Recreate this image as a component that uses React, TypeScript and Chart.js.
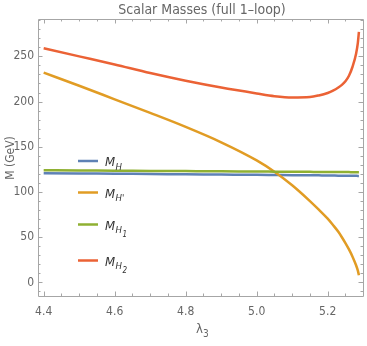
import React, { useEffect, useRef } from "react";
import { Chart, registerables } from "chart.js";

Chart.register(...registerables);

const LAMBDA3 = [4.40, 4.50, 4.60, 4.70, 4.80, 4.90, 5.00, 5.05, 5.10, 5.15, 5.175, 5.20, 5.215, 5.23, 5.24, 5.25, 5.26, 5.27, 5.28, 5.285, 5.288];
const M_H = [120.8, 120.5, 120.2, 119.9, 119.6, 119.3, 119.0, 118.8, 118.6, 118.5, 118.4, 118.3, 118.2, 118.1, 118.1, 118.0, 118.0, 117.9, 117.9, 117.8, 117.8];
const M_HP = [232, 217.5, 202.5, 187.5, 172, 155, 135, 122.5, 107.5, 90, 80.5, 70.5, 63.5, 56, 50, 43.5, 36.5, 28.5, 19, 13, 8];
const M_H1 = [124.1, 123.8, 123.6, 123.3, 123.1, 122.9, 122.6, 122.5, 122.4, 122.3, 122.2, 122.2, 122.1, 122.1, 122.0, 122.0, 122.0, 121.9, 121.9, 121.9, 121.9];
const M_H2 = [259, 250, 241, 231.5, 223, 215.5, 209, 206, 204.5, 205, 206.8, 209.5, 212, 215.5, 218.5, 222.5, 228.5, 238.5, 253, 265, 277];

const X_TICKS = [4.4, 4.6, 4.8, 5.0, 5.2];
const Y_TICKS = [0, 50, 100, 150, 200, 250];

const TITLE = "Scalar Masses (full 1–loop)";
const Y_TITLE = "M (GeV)";

const COLORS = {
  MH: "#5E81B5",
  MHP: "#E19C24",
  MH1: "#8FB032",
  MH2: "#EB6235",
};

const LEGEND = [
  { main: "M", sub: "H", subsub: "", color: COLORS.MH },
  { main: "M", sub: "H'", subsub: "", color: COLORS.MHP },
  { main: "M", sub: "H", subsub: "1", color: COLORS.MH1 },
  { main: "M", sub: "H", subsub: "2", color: COLORS.MH2 },
];

const FONT = "'Liberation Sans Narrow', 'DejaVu Sans Condensed', sans-serif";
const GRAY = "#666666";
const FRAME = "#a6a6a6";

const framePlugin = {
  id: "framePlugin",
  afterDraw(chart: any) {
    const { ctx, chartArea: a, scales } = chart;
    const xs = scales.x;
    const ys = scales.y;
    ctx.save();
    ctx.strokeStyle = FRAME;
    ctx.lineWidth = 1;
    ctx.beginPath();
    ctx.rect(Math.round(a.left) + 0.5, Math.round(a.top) + 0.5, Math.round(a.right - a.left), Math.round(a.bottom - a.top));
    ctx.stroke();
    ctx.beginPath();
    for (let k = 0; k <= 20; k++) {
      const v = 4.4 + k * 0.05;
      if (v > xs.max) break;
      const px = Math.round(xs.getPixelForValue(v)) + 0.5;
      const len = k % 4 === 0 ? 4.5 : 2.5;
      ctx.moveTo(px, a.bottom);
      ctx.lineTo(px, a.bottom - len);
      ctx.moveTo(px, a.top);
      ctx.lineTo(px, a.top + len);
    }
    for (let v = -10; v <= 290; v += 10) {
      const py = Math.round(ys.getPixelForValue(v)) + 0.5;
      const len = v % 50 === 0 ? 4.5 : 2.5;
      ctx.moveTo(a.left, py);
      ctx.lineTo(a.left + len, py);
      ctx.moveTo(a.right, py);
      ctx.lineTo(a.right - len, py);
    }
    ctx.stroke();

    ctx.fillStyle = GRAY;
    ctx.font = `14px ${FONT}`;
    ctx.textAlign = "center";
    ctx.textBaseline = "middle";
    ctx.fillText(TITLE, 202, 10);

    ctx.save();
    ctx.translate(11, 158);
    ctx.rotate(-Math.PI / 2);
    ctx.font = `12px ${FONT}`;
    ctx.fillText(Y_TITLE, 0, 0);
    ctx.restore();

    ctx.textAlign = "left";
    ctx.textBaseline = "alphabetic";
    ctx.font = `13px ${FONT}`;
    ctx.fillText("λ", 196, 333);
    ctx.font = `10px ${FONT}`;
    ctx.fillText("3", 203, 337);

    const ly = [161, 192.5, 224.5, 260.5];
    LEGEND.forEach((e, i) => {
      const y = ly[i];
      ctx.strokeStyle = e.color;
      ctx.lineWidth = 2.5;
      ctx.beginPath();
      ctx.moveTo(78, y);
      ctx.lineTo(98, y);
      ctx.stroke();
      ctx.fillStyle = "#333333";
      ctx.font = `italic 13px ${FONT}`;
      ctx.fillText(e.main, 105, y + 5);
      const mw = ctx.measureText(e.main).width;
      ctx.font = `italic 9.5px ${FONT}`;
      ctx.fillText(e.sub, 105 + mw + 0.5, y + 8.5);
      const sw = ctx.measureText(e.sub).width;
      if (e.subsub) {
        ctx.font = `italic 8px ${FONT}`;
        ctx.fillText(e.subsub, 105 + mw + 0.5 + sw + 0.5, y + 12);
      }
    });
    ctx.restore();
  },
};

export default function App() {
  const ref = useRef<HTMLCanvasElement>(null);
  useEffect(() => {
    document.body.style.margin = "0";
    const mk = (arr: number[]) => LAMBDA3.map((x, i) => ({ x, y: arr[i] }));
    const ds = (label: string, arr: number[], color: string, order: number) => ({
      label,
      data: mk(arr),
      borderColor: color,
      backgroundColor: color,
      borderWidth: 2.5,
      pointRadius: 0,
      cubicInterpolationMode: "monotone" as const,
      fill: false,
      order,
    });
    const chart = new Chart(ref.current!, {
      type: "line",
      data: {
        datasets: [
          ds("M_H", M_H, COLORS.MH, 4),
          ds("M_H'", M_HP, COLORS.MHP, 3),
          ds("M_H1", M_H1, COLORS.MH1, 2),
          ds("M_H2", M_H2, COLORS.MH2, 1),
        ],
      },
      options: {
        animation: false,
        responsive: false,
        devicePixelRatio: 1,
        layout: { padding: { top: 19, right: 4, left: 0, bottom: 0 } },
        plugins: {
          legend: { display: false },
          title: { display: false },
          tooltip: { enabled: false },
        },
        scales: {
          x: {
            type: "linear",
            min: 4.384,
            max: 5.2995,
            afterBuildTicks: (s: any) => {
              s.ticks = X_TICKS.map((v) => ({ value: v }));
            },
            afterFit: (s: any) => {
              s.height = 50;
            },
            grid: { display: false, drawTicks: false },
            border: { display: false },
            ticks: {
              color: GRAY,
              font: { family: FONT, size: 12 },
              padding: 9,
              maxRotation: 0,
              autoSkip: false,
              callback: (v: any) => Number(v).toFixed(1),
            },
          },
          y: {
            type: "linear",
            min: -15,
            max: 291.3,
            afterBuildTicks: (s: any) => {
              s.ticks = Y_TICKS.map((v) => ({ value: v }));
            },
            afterFit: (s: any) => {
              s.width = 38;
            },
            grid: { display: false, drawTicks: false },
            border: { display: false },
            ticks: {
              color: GRAY,
              font: { family: FONT, size: 12 },
              padding: 4,
              autoSkip: false,
              callback: (v: any) => String(v),
            },
          },
        },
      },
      plugins: [framePlugin],
    });
    return () => chart.destroy();
  }, []);
  return <canvas ref={ref} width={367} height={346} style={{ display: "block" }} />;
}
